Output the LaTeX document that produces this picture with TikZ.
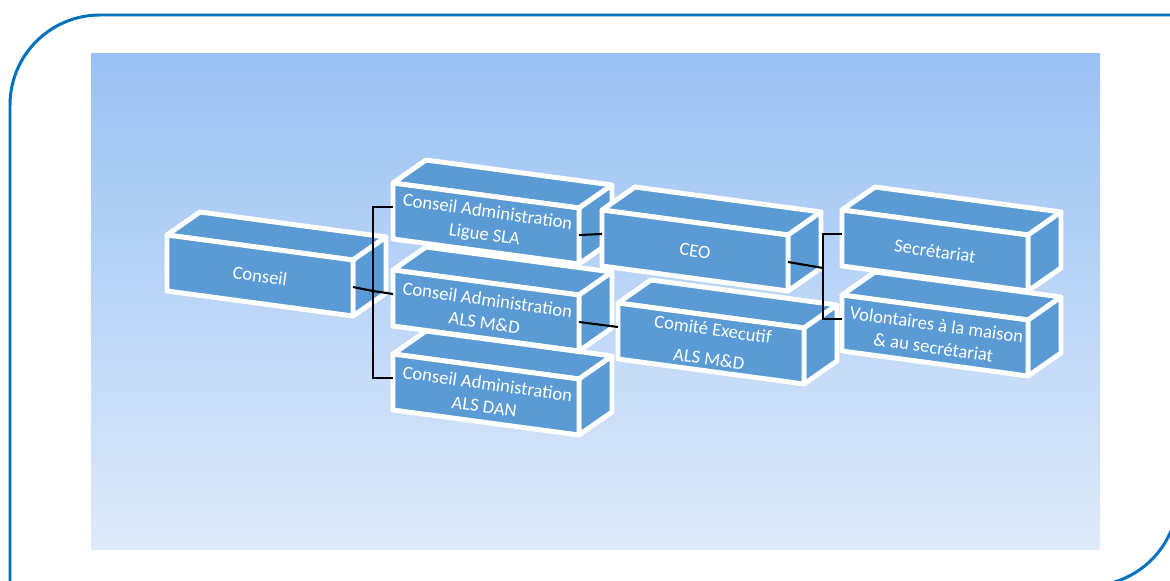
\documentclass[tikz,border=0pt]{standalone}
\usepackage{fontspec}
\setmainfont{Carlito}
\definecolor{boxblue}{HTML}{5B9BD5}
\definecolor{framebl}{HTML}{0070C0}
\definecolor{bgtop}{HTML}{99C1F4}
\definecolor{bgbot}{HTML}{DEEAF9}
\tikzset{
  boxface/.style={fill=boxblue,draw=white,line width=2.8pt,line join=round},
  boxtext/.style={text=white,font=\fontsize{10.6}{13}\selectfont,align=center,rotate=-8,inner sep=0pt},
  conn/.style={draw=black,line width=1.2pt},
  frameline/.style={draw=framebl,line width=1.7pt}
}
% #1 name, #2 x, #3 y (front face top-left), #4 text
\newcommand\cubebox[4]{%
  \filldraw[boxface] (#2,#3) -- ++(33,-23) -- ++(186,25) -- ++(-33,23) -- cycle;
  \filldraw[boxface] (#2,#3) ++(186,25) -- ++(33,-23) -- ++(0,56) -- ++(-33,23) -- cycle;
  \filldraw[boxface] (#2,#3) -- ++(186,25) -- ++(0,56) -- ++(-186,-25) -- cycle;
  \path (#2,#3) ++(93,41) node[boxtext] (#1) {#4};
  \path (#2,#3) ++(0,24) coordinate (#1-l);
  \path (#2,#3) ++(186,52) coordinate (#1-r);
}
\begin{document}
\begin{tikzpicture}[x=0.02cm,y=-0.02cm]
\useasboundingbox (0,0) rectangle (1170,581);
\clip (0,0) rectangle (1170,581);
\fill[white] (0,0) rectangle (1170,581);
\path[frameline] (10,620) -- (10,105) arc[start angle=180,end angle=270,radius=90] -- (1200,15);
\path[frameline] (1178,0) -- (1178,496) arc[start angle=0,end angle=90,radius=90] -- (900,586);
\shade[top color=bgtop,bottom color=bgbot] (91,54) rectangle (1100,549);

\cubebox{conseil}{167}{235}{Conseil}
\cubebox{ligue}{393}{183}{Conseil Administration\\Ligue SLA}
\cubebox{mad}{393}{270}{Conseil Administration\\ALS M\&D}
\cubebox{dan}{393}{354}{Conseil Administration\\ALS DAN}
\cubebox{ceo}{602}{210}{CEO}
\cubebox{comite}{618}{303}{Comité Executif\\[4pt]ALS M\&D}
\cubebox{secr}{842}{210}{Secrétariat}
\cubebox{vol}{842}{295}{Volontaires à la maison\\\& au secrétariat}

\coordinate (j1) at (373,291);
\draw[conn] (conseil-r) -- (j1) -- (mad-l);
\draw[conn] (ligue-l) -- (ligue-l -| j1) -- (dan-l -| j1) -- (dan-l);
\draw[conn] (ligue-r) -- (ceo-l);
\draw[conn] (mad-r) -- (comite-l);
\coordinate (j2) at (823,268);
\draw[conn] (ceo-r) -- (j2);
\draw[conn] (secr-l) -- (secr-l -| j2) -- (vol-l -| j2) -- (vol-l);
\end{tikzpicture}
\end{document}
